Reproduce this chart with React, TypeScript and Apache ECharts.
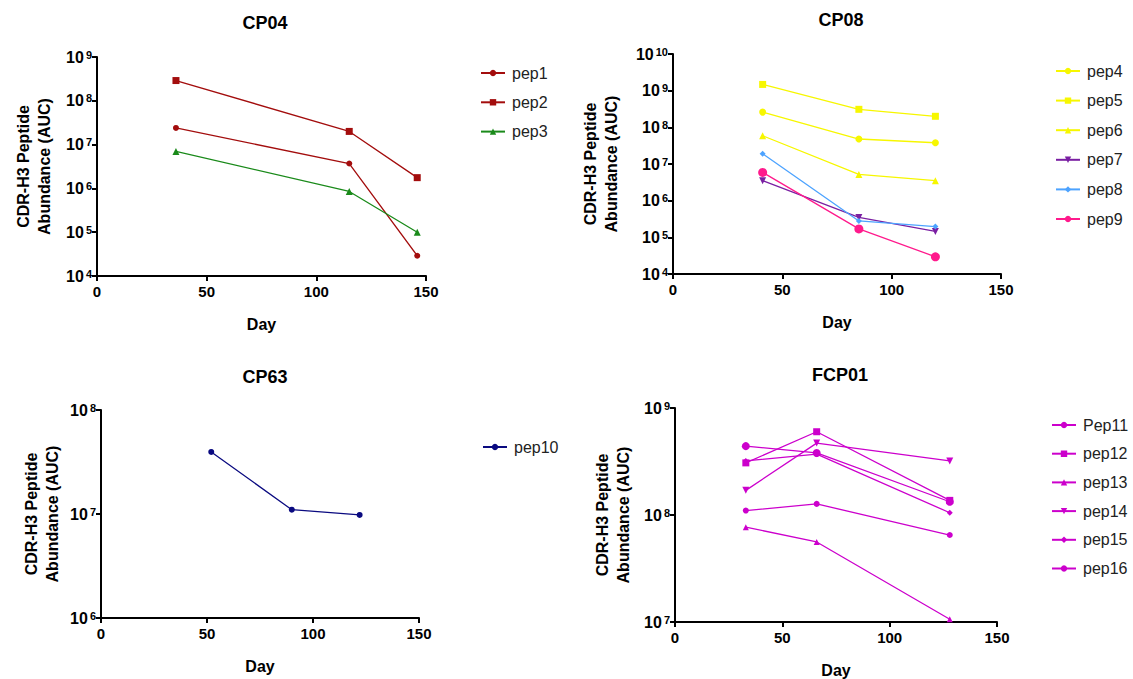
import React, { useEffect, useRef } from "react";
import * as echarts from "echarts";

const FONT = '"Liberation Sans", Arial, Helvetica, sans-serif';

// CP04
const cp04Days = [36, 115, 146];
const pep1 = [2.4e7, 3.7e6, 2.9e4];
const pep2 = [2.9e8, 2.0e7, 1.76e6];
const pep3 = [7.0e6, 8.5e5, 1.0e5];

// CP08
const cp08Days = [41, 85, 120];
const pep4 = [2.6e8, 4.8e7, 3.8e7];
const pep5 = [1.48e9, 3.1e8, 2.0e8];
const pep6 = [5.9e7, 5.2e6, 3.5e6];
const pep7 = [3.5e6, 3.5e5, 1.45e5];
const pep8 = [1.9e7, 2.8e5, 1.96e5];
const pep9 = [5.9e6, 1.7e5, 2.95e4];

// CP63
const cp63Days = [52, 90, 122];
const pep10 = [3.95e7, 1.1e7, 9.8e6];

// FCP01
const fcp01Days = [33, 66, 128];
const pep11 = [1.1e8, 1.27e8, 6.5e7];
const pep12 = [3.07e8, 6.0e8, 1.37e8];
const pep13 = [7.7e7, 5.6e7, 1.06e7];
const pep14 = [1.7e8, 4.7e8, 3.2e8];
const pep15 = [3.2e8, 3.7e8, 1.05e8];
const pep16 = [4.4e8, 3.8e8, 1.33e8];

const titles = ["CP04", "CP08", "CP63", "FCP01"];
const xTicks = [0, 50, 100, 150];
const yRanges = [
  [1e4, 1e9],
  [1e4, 1e10],
  [1e6, 1e8],
  [1e7, 1e9],
];

const grids = [
  { left: 97, top: 57, width: 329, height: 219 },
  { left: 673, top: 54, width: 328, height: 220 },
  { left: 101, top: 410, width: 318, height: 208 },
  { left: 675, top: 408, width: 322, height: 215 },
];
const titlePos = [
  [260, 9],
  [836, 6],
  [260, 363],
  [835, 361],
];
const yNameGaps = [42, 51, 38, 41];
const legendPos = [
  { left: 475, top: 64, gap: 13.3 },
  { left: 1050, top: 62, gap: 13.6 },
  { left: 477, top: 438, gap: 13 },
  { left: 1046, top: 416, gap: 12.7 },
];

type S = {
  name: string;
  grid: number;
  days: number[];
  vals: number[];
  color: string;
  symbol: string;
  size: number;
  rotate?: number;
};

const seriesDefs: S[] = [
  { name: "pep1", grid: 0, days: cp04Days, vals: pep1, color: "#a30d0d", symbol: "circle", size: 6 },
  { name: "pep2", grid: 0, days: cp04Days, vals: pep2, color: "#a30d0d", symbol: "rect", size: 7 },
  { name: "pep3", grid: 0, days: cp04Days, vals: pep3, color: "#1a8a1a", symbol: "triangle", size: 7 },
  { name: "pep4", grid: 1, days: cp08Days, vals: pep4, color: "#f7f700", symbol: "circle", size: 7 },
  { name: "pep5", grid: 1, days: cp08Days, vals: pep5, color: "#f7f700", symbol: "rect", size: 7 },
  { name: "pep6", grid: 1, days: cp08Days, vals: pep6, color: "#f7f700", symbol: "triangle", size: 7 },
  { name: "pep7", grid: 1, days: cp08Days, vals: pep7, color: "#7a1fa2", symbol: "triangle", size: 7, rotate: 180 },
  { name: "pep8", grid: 1, days: cp08Days, vals: pep8, color: "#4da3ff", symbol: "diamond", size: 6 },
  { name: "pep9", grid: 1, days: cp08Days, vals: pep9, color: "#ff1a8c", symbol: "circle", size: 9 },
  { name: "pep10", grid: 2, days: cp63Days, vals: pep10, color: "#0a0a80", symbol: "circle", size: 6 },
  { name: "Pep11", grid: 3, days: fcp01Days, vals: pep11, color: "#cc00cc", symbol: "circle", size: 6 },
  { name: "pep12", grid: 3, days: fcp01Days, vals: pep12, color: "#cc00cc", symbol: "rect", size: 7 },
  { name: "pep13", grid: 3, days: fcp01Days, vals: pep13, color: "#cc00cc", symbol: "triangle", size: 6 },
  { name: "pep14", grid: 3, days: fcp01Days, vals: pep14, color: "#cc00cc", symbol: "triangle", size: 7, rotate: 180 },
  { name: "pep15", grid: 3, days: fcp01Days, vals: pep15, color: "#cc00cc", symbol: "diamond", size: 6 },
  { name: "pep16", grid: 3, days: fcp01Days, vals: pep16, color: "#cc00cc", symbol: "circle", size: 8 },
];

export default function App() {
  const ref = useRef<HTMLDivElement>(null);
  useEffect(() => {
    if (!ref.current) return;
    const chart = echarts.init(ref.current, undefined, { renderer: "svg" });
    const axisLine = { show: true, lineStyle: { color: "#000", width: 2 } };
    const axisTick = { show: true, length: 5, lineStyle: { color: "#000", width: 2 } };
    const option: any = {
      animation: false,
      backgroundColor: "#fff",
      title: titles.map((t, i) => ({
        text: t,
        left: titlePos[i][0],
        top: titlePos[i][1],
        textAlign: "center",
        textStyle: { fontFamily: FONT, fontSize: 18, fontWeight: "bold", color: "#000" },
      })),
      grid: grids,
      xAxis: grids.map((_, i) => ({
        type: "value",
        gridIndex: i,
        min: xTicks[0],
        max: xTicks[xTicks.length - 1],
        interval: 50,
        name: "Day",
        nameLocation: "middle",
        nameGap: 40,
        nameTextStyle: { fontFamily: FONT, fontSize: 16, fontWeight: "bold", color: "#000" },
        axisLine,
        axisTick,
        splitLine: { show: false },
        axisLabel: { fontFamily: FONT, fontSize: 15, fontWeight: "bold", color: "#000", margin: 8 },
      })),
      yAxis: grids.map((_, i) => ({
        type: "log",
        logBase: 10,
        gridIndex: i,
        min: yRanges[i][0],
        max: yRanges[i][1],
        name: "CDR-H3 Peptide\nAbundance (AUC)",
        nameLocation: "middle",
        nameRotate: 90,
        nameGap: yNameGaps[i],
        nameTextStyle: { fontFamily: FONT, fontSize: 16, fontWeight: "bold", color: "#000", lineHeight: 21 },
        axisLine,
        axisTick,
        splitLine: { show: false },
        minorTick: { show: false },
        axisLabel: {
          margin: 5,
          formatter: (v: number) => `{b|10}{s|${Math.round(Math.log10(v))}}`,
          rich: {
            b: { fontFamily: FONT, fontSize: 16, fontWeight: "bold", color: "#000" },
            s: { fontFamily: FONT, fontSize: 11, fontWeight: "bold", color: "#000", verticalAlign: "top", padding: [0, 0, 4, 2] },
          },
        },
      })),
      legend: legendPos.map((p, i) => ({
        orient: "vertical",
        left: p.left,
        top: p.top - 4,
        itemGap: p.gap,
        itemWidth: 24,
        itemHeight: 8,
        data: seriesDefs.filter((s) => s.grid === i).map((s) => s.name),
        textStyle: { fontFamily: FONT, fontSize: 16, color: "#222", padding: [0, 0, 0, 2] },
        selectedMode: false,
      })),
      series: seriesDefs.map((s) => ({
        type: "line",
        name: s.name,
        xAxisIndex: s.grid,
        yAxisIndex: s.grid,
        data: s.days.map((d, k) => [d, s.vals[k]]),
        symbol: s.symbol,
        symbolSize: s.size,
        symbolRotate: s.rotate || 0,
        lineStyle: { color: s.color, width: 1.3 },
        itemStyle: { color: s.color },
        color: s.color,
      })),
    };
    chart.setOption(option);
    return () => chart.dispose();
  }, []);
  return (
    <div
      ref={ref}
      style={{ position: "absolute", left: 0, top: 0, width: 1133, height: 679, background: "#fff" }}
    />
  );
}
